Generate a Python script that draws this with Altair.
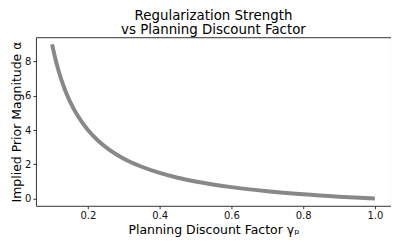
import altair as alt
import pandas as pd

gamma_p = [0.10, 0.11, 0.12, 0.13, 0.14, 0.16, 0.18, 0.20, 0.23, 0.26, 0.30,
           0.35, 0.40, 0.45, 0.50, 0.60, 0.70, 0.80, 0.90, 1.00]
alpha_vals = [9.00, 8.09, 7.33, 6.69, 6.14, 5.25, 4.56, 4.00, 3.35, 2.85, 2.33,
              1.86, 1.50, 1.22, 1.00, 0.67, 0.43, 0.25, 0.11, 0.00]
x_ticks = [0.2, 0.4, 0.6, 0.8, 1.0]
y_ticks = [0, 2, 4, 6, 8]

df = pd.DataFrame({"gamma": gamma_p, "alpha": alpha_vals})

FONT = "DejaVu Sans"

chart = alt.Chart(df).mark_line(
    color="#888888", strokeWidth=4, interpolate="monotone", clip=True
).encode(
    x=alt.X("gamma:Q",
            scale=alt.Scale(domain=[0.055, 1.045], nice=False, zero=False),
            axis=alt.Axis(values=x_ticks, format=".1f",
                          title="Planning Discount Factor γₚ")),
    y=alt.Y("alpha:Q",
            scale=alt.Scale(domain=[-0.42, 9.42], nice=False, zero=False),
            axis=alt.Axis(values=y_ticks, format="d",
                          title="Implied Prior Magnitude α")),
).properties(
    width=356,
    height=169,
    title=alt.Title(["Regularization Strength", "vs Planning Discount Factor"],
                    fontSize=13.4, font=FONT, fontWeight="normal", color="black",
                    anchor="middle", lineHeight=14, offset=1),
    autosize=alt.AutoSizeParams(type="none"),
    padding={"left": 28, "top": 29, "right": 0, "bottom": 35},
).configure_view(
    stroke="#333333", strokeWidth=1
).configure_axis(
    grid=False, domain=False,
    labelFont=FONT, labelFontSize=10, labelColor="#111111",
    titleFont=FONT, titleFontSize=12.5, titleFontWeight="normal", titleColor="black",
    tickColor="#333333", tickSize=3, labelPadding=2,
).configure_axisX(
    titlePadding=3
).configure_axisY(
    titlePadding=1
)

chart.save("out.html", embed_options={"renderer": "svg", "actions": False})
